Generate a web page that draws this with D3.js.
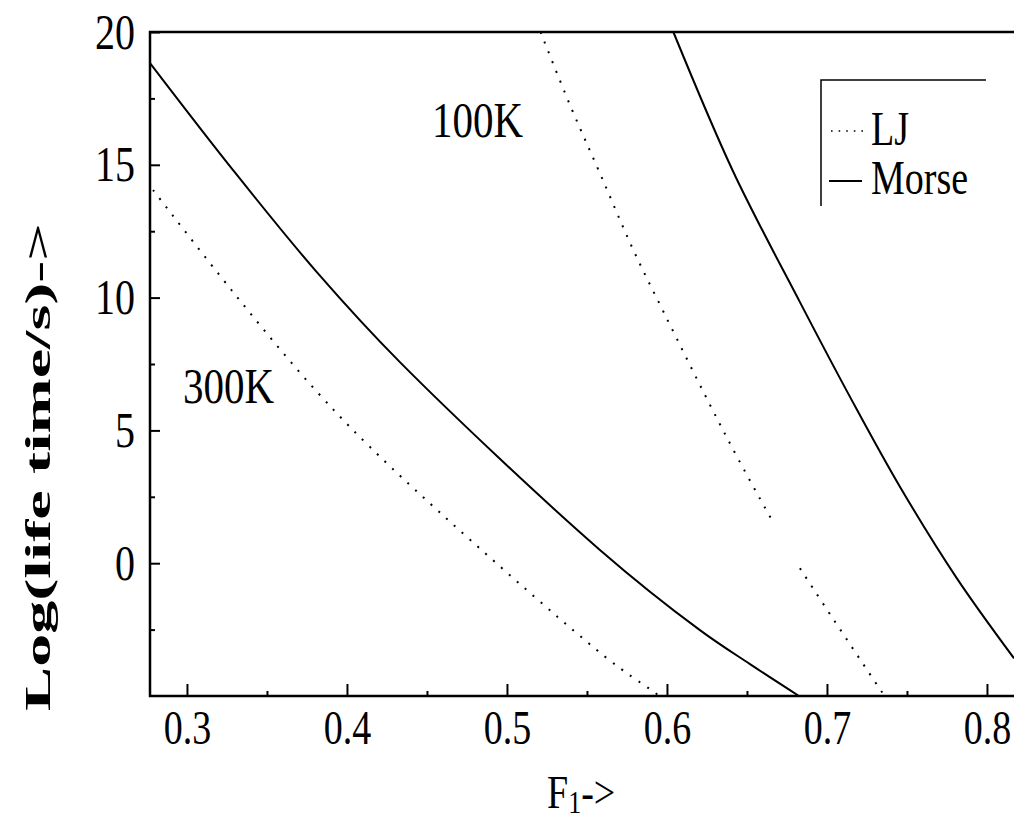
<!DOCTYPE html>
<html>
<head>
<meta charset="utf-8">
<script src="https://cdn.jsdelivr.net/npm/d3@7"></script>
<style>
  body { margin: 0; background: #fff; }
  text { font-family: "Liberation Serif", "Times New Roman", serif; fill: #000; }
</style>
</head>
<body>
<svg id="chart" width="1014" height="821"></svg>
<script>
// values (F1 -> log10 lifetime)
const lj300X = [0.2788, 0.3288, 0.3813, 0.4281, 0.5613, 0.5900, 0.5953];
const lj300Y = [14.05, 10.21, 6.45, 3.58, -3.52, -4.77, -5];

const morse300X = [0.2769, 0.3288, 0.3813, 0.4331, 0.5581, 0.6206, 0.6519, 0.6825];
const morse300Y = [18.83, 14.80, 10.95, 7.57, 0.50, -2.52, -3.80, -5];

// LJ 100K is drawn with a break in it
const lj100aX = [0.5210, 0.5394, 0.5581, 0.5790, 0.5983, 0.6269, 0.6452, 0.6669];
const lj100aY = [20, 17.25, 14.68, 11.79, 9.41, 5.96, 3.85, 1.48];
const lj100bX = [0.6831, 0.7040, 0.7321, 0.7360];
const lj100bY = [-0.19, -2.11, -4.65, -5];

const morse100X = [0.6040, 0.6415, 0.6831, 0.7155, 0.7456, 0.7811, 0.8169];
const morse100Y = [20, 14.73, 9.83, 6.14, 2.88, -0.56, -3.58];

const xTicks = [0.3, 0.4, 0.5, 0.6, 0.7, 0.8];
const xMinor = [0.35, 0.45, 0.55, 0.65, 0.75];
const yTicks = [0, 5, 10, 15, 20];
const yMinor = [-2.5, 2.5, 7.5, 12.5, 17.5];

const series = [
  { xs: lj300X, ys: lj300Y, dotted: true },
  { xs: morse300X, ys: morse300Y, dotted: false },
  { xs: lj100aX, ys: lj100aY, dotted: true },
  { xs: lj100bX, ys: lj100bY, dotted: true },
  { xs: morse100X, ys: morse100Y, dotted: false }
];

const svg = d3.select("#chart");
const plotL = 150, plotR = 1014, plotT = 32, plotB = 696;
const stretch = 1.25; // the scanned figure is taller than it is wide

const x = d3.scaleLinear().domain([0.2769, 0.8169]).range([plotL, plotR]);
const y = d3.scaleLinear().domain([-5, 20]).range([plotB, plotT]);

svg.append("clipPath").attr("id", "plotclip")
  .append("rect").attr("x", plotL).attr("y", plotT - 1)
  .attr("width", plotR - plotL).attr("height", plotB - plotT + 2);

// axes with inward ticks
const xAxis = svg.append("g")
  .attr("transform", `translate(0,${plotB})`)
  .call(d3.axisBottom(x).tickValues(xTicks).tickSize(-12).tickSizeOuter(0).tickFormat(d3.format(".1f")));
svg.append("g")
  .attr("transform", `translate(0,${plotB})`)
  .call(d3.axisBottom(x).tickValues(xMinor).tickSize(-5).tickSizeOuter(0).tickFormat(""));

const yAxis = svg.append("g")
  .attr("transform", `translate(${plotL},0)`)
  .call(d3.axisLeft(y).tickValues(yTicks).tickSize(-10).tickSizeOuter(0));
svg.append("g")
  .attr("transform", `translate(${plotL},0)`)
  .call(d3.axisLeft(y).tickValues(yMinor).tickSize(-5).tickSizeOuter(0).tickFormat(""));

svg.selectAll(".tick line").attr("stroke", "#000").attr("stroke-width", 2);
svg.selectAll(".domain").remove();

xAxis.selectAll("text")
  .attr("font-size", 38).attr("font-family", "Liberation Serif").attr("fill", "#000")
  .attr("y", 48 / stretch).attr("dy", 0)
  .attr("transform", `scale(1,${stretch})`);

yAxis.selectAll("text")
  .attr("font-size", 40).attr("font-family", "Liberation Serif").attr("fill", "#000")
  .attr("x", -15).attr("y", 16 / stretch).attr("dy", 0)
  .attr("text-anchor", "end")
  .attr("transform", `scale(1,${stretch})`);

// frame: left, top, bottom (the right side is cut off in the figure)
svg.append("path")
  .attr("d", `M${plotR},${plotT}H${plotL}V${plotB}H${plotR}`)
  .attr("fill", "none").attr("stroke", "#000").attr("stroke-width", 2.5);

// curves
const line = d3.line()
  .x(d => x(d[0]))
  .y(d => y(d[1]))
  .curve(d3.curveCatmullRom.alpha(0.5));

const plot = svg.append("g").attr("clip-path", "url(#plotclip)");
series.forEach(s => {
  plot.append("path")
    .datum(s.xs.map((v, i) => [v, s.ys[i]]))
    .attr("fill", "none")
    .attr("stroke", "#000")
    .attr("stroke-width", 2)
    .attr("stroke-dasharray", s.dotted ? "2,8.5" : null)
    .attr("d", line);
});

function label(px, py, str, size, anchor) {
  return svg.append("text")
    .attr("transform", `translate(${px},${py}) scale(1,${stretch})`)
    .attr("font-size", size)
    .attr("text-anchor", anchor || "start")
    .text(str);
}

label(432, 137, "100K", 41);
label(183, 403, "300K", 41);

// legend
svg.append("path")
  .attr("d", "M986,80H821V206")
  .attr("fill", "none").attr("stroke", "#000").attr("stroke-width", 1.5);
svg.append("line")
  .attr("x1", 831).attr("x2", 864).attr("y1", 131).attr("y2", 131)
  .attr("stroke", "#000").attr("stroke-width", 1.6).attr("stroke-dasharray", "1.6,6");
svg.append("line")
  .attr("x1", 829).attr("x2", 862).attr("y1", 181).attr("y2", 181)
  .attr("stroke", "#000").attr("stroke-width", 2);
label(871, 145, "LJ", 38);
label(871, 194, "Morse", 38);

// axis titles
const xt = svg.append("text")
  .attr("transform", `translate(547,808) scale(1,1.2)`)
  .attr("font-size", 38);
xt.append("tspan").text("F");
xt.append("tspan").attr("font-size", 26).attr("dy", 4).text("1");
xt.append("tspan").attr("dy", -4).text("->");

svg.append("text")
  .attr("transform", "translate(50,467) rotate(-90)")
  .attr("text-anchor", "middle")
  .attr("font-family", "DejaVu Serif")
  .attr("font-weight", "bold")
  .attr("font-size", 36)
  .attr("textLength", 488)
  .attr("lengthAdjust", "spacingAndGlyphs")
  .text("Log(life time/s)->");
</script>
</body>
</html>
